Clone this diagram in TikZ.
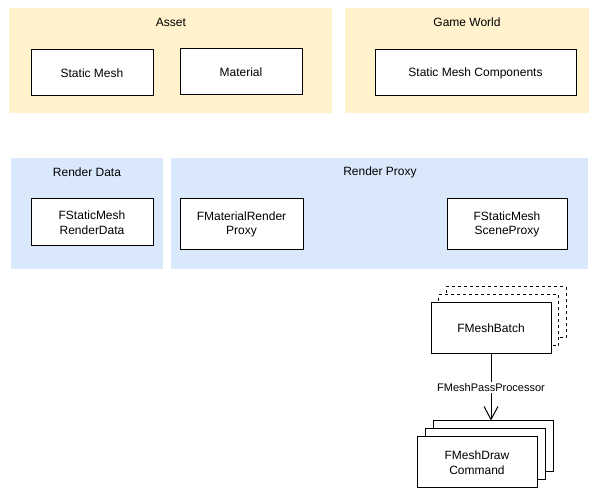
\documentclass[tikz,border=0pt]{standalone}
\usepackage{fontspec}
\setmainfont{Liberation Sans}
\usetikzlibrary{arrows.meta}
\definecolor{panelyellow}{HTML}{FFF2CC}
\definecolor{panelblue}{HTML}{DAE8FC}
\begin{document}
\begin{tikzpicture}[x=1pt,y=-1pt,
  panelfill/.style={fill=#1, draw=none},
  paneltitle/.style={font=\fontsize{12}{14}\selectfont, inner sep=0pt},
  box/.style={draw=black, fill=white, line width=1pt, align=center,
    font=\fontsize{12}{14.5}\selectfont, inner sep=2pt,
    minimum width=#1, minimum height=51pt},
  box/.default=120pt,
  dashbox/.style={box, dash pattern=on 3pt off 3pt},
  conn/.style={draw=black, line width=1pt, -{Straight Barb[length=13pt,width=14pt,line width=1pt]}},
  lbl/.style={fill=white, font=\fontsize{11}{13}\selectfont, inner sep=1pt}
]
\useasboundingbox (0,0) rectangle (598,497);

% panels
\path[panelfill=panelyellow] (9,8) rectangle (332,113);
\path[panelfill=panelyellow] (345,8) rectangle (589,113);
\path[panelfill=panelblue] (11,158) rectangle (163,269);
\path[panelfill=panelblue] (171,158) rectangle (588,269);

\node[paneltitle] (tasset) at (171,22) {Asset};
\node[paneltitle] (tworld) at (467,22) {Game World};
\node[paneltitle] (tdata) at (87,172) {Render Data};
\node[paneltitle] (tproxy) at (380,172) {Render Proxy};

% boxes
\node[box=122pt, minimum height=46pt] (sm) at (92,73) {Static Mesh};
\node[box=122pt, minimum height=46pt] (mat) at (241,72) {Material};
\node[box=201pt, minimum height=46pt] (smc) at (475.5,73) {Static Mesh Components};
\node[box=122pt, minimum height=47pt] (rd) at (92,222.5) {FStaticMesh\\RenderData};
\node[box=123pt] (mrp) at (241.5,224.5) {FMaterialRender\\Proxy};
\node[box] (sp) at (507,224.5) {FStaticMesh\\SceneProxy};

% FMeshBatch stack
\node[dashbox] (mb3) at (506,312.5) {};
\node[dashbox] (mb2) at (498.5,320.5) {};
\node[box] (mb) at (491,328.5) {FMeshBatch};

% FMeshDrawCommand stack
\node[box] (dc3) at (493,446.5) {};
\node[box] (dc2) at (485,454.5) {};
\node[box] (dc) at (477,462.5) {FMeshDraw\\Command};

\draw[conn] (mb.south) -- (dc3.north -| mb.south) node[lbl, pos=0.5] (lp) {FMeshPassProcessor};
\end{tikzpicture}
\end{document}
